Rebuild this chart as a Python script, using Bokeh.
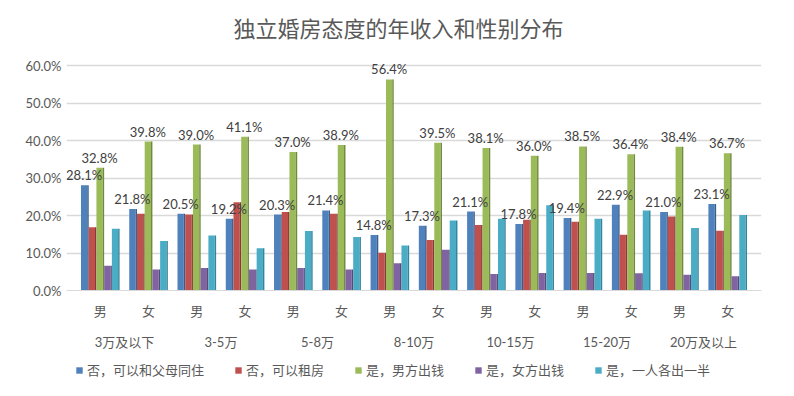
from bokeh.plotting import figure
from bokeh.layouts import column
from bokeh.models import (FactorRange, ColumnDataSource, FixedTicker, Range1d,
                          PrintfTickFormatter, Legend, LegendItem, Label)
from bokeh.transform import dodge
from bokeh.core.properties import value
from bokeh.embed import file_html
from bokeh.resources import INLINE

# ---------------- data ----------------
title_text = "独立婚房态度的年收入和性别分布"
incomes = ["3万及以下", "3-5万", "5-8万", "8-10万", "10-15万", "15-20万", "20万及以上"]
genders = ["男", "女"]
series_names = ["否，可以和父母同住", "否，可以租房", "是，男方出钱", "是，女方出钱", "是，一人各出一半"]

parents = [28.1, 21.8, 20.5, 19.2, 20.3, 21.4, 14.8, 17.3, 21.1, 17.8, 19.4, 22.9, 21.0, 23.1]
rent    = [16.9, 20.5, 20.3, 23.6, 21.0, 20.5, 10.1, 13.5, 17.5, 18.9, 18.4, 14.9, 19.8, 16.0]
male    = [32.8, 39.8, 39.0, 41.1, 37.0, 38.9, 56.4, 39.5, 38.1, 36.0, 38.5, 36.4, 38.4, 36.7]
female  = [6.6, 5.6, 6.0, 5.6, 6.0, 5.6, 7.3, 10.9, 4.4, 4.7, 4.7, 4.6, 4.2, 3.8]
half    = [16.5, 13.2, 14.7, 11.3, 15.9, 14.3, 12.0, 18.7, 19.2, 22.8, 19.2, 21.4, 16.7, 20.2]

y_ticks = [0, 10, 20, 30, 40, 50, 60]

colors = ["#4F81BD", "#C0504D", "#9BBB59", "#8064A2", "#4BACC6"]
sides  = ["#385D8A", "#8C3836", "#71893F", "#5C4776", "#31859C"]

factors = [(inc, g) for inc in incomes for g in genders]
cols = ["s0", "s1", "s2", "s3", "s4"]
data = dict(x=factors, s0=parents, s1=rent, s2=male, s3=female, s4=half)
data["l0"] = [f"{v:.1f}%" for v in parents]
data["l2"] = [f"{v:.1f}%" for v in male]
src = ColumnDataSource(data)

CJK = "Noto Sans CJK SC"
MIX = "Lato, 'Noto Sans CJK SC'"
NUM = "Lato"
GREY = "#595959"

# ---- title strip ----
t = figure(width=778, height=50, x_range=Range1d(0, 1), y_range=Range1d(0, 1),
           x_axis_type=None, y_axis_type=None,
           output_backend="svg", toolbar_location=None,
           min_border_left=0, min_border_right=0, min_border_top=0, min_border_bottom=0)
t.grid.grid_line_color = None
t.outline_line_color = None
t.add_layout(Label(x=0.2403, y=0.48, x_units="data", y_units="data", text=title_text,
                   text_font=CJK, text_font_size="22px", text_color=GREY,
                   text_align="left", text_baseline="middle"))

# ---- main chart ----
p = figure(x_range=FactorRange(*factors, group_padding=0, factor_padding=0,
                               range_padding=0.2, range_padding_units="absolute"),
           y_range=(0, 62), width=778, height=310,
           output_backend="svg", toolbar_location=None,
           min_border_left=66, min_border_right=17, min_border_top=8, min_border_bottom=70)

p.outline_line_color = None
p.background_fill_color = "white"
p.border_fill_color = "white"
p.xgrid.grid_line_color = None
p.ygrid.grid_line_color = "#d9d9d9"
p.ygrid.grid_line_width = 1.3

p.yaxis.ticker = FixedTicker(ticks=y_ticks)
p.yaxis.formatter = PrintfTickFormatter(format="%.1f%%")
p.yaxis.axis_line_color = None
p.yaxis.major_tick_line_color = None
p.yaxis.major_tick_out = 0
p.yaxis.major_tick_in = 0
p.yaxis.minor_tick_line_color = None
p.yaxis.minor_tick_out = 0
p.yaxis.major_label_text_font = NUM
p.yaxis.major_label_text_font_size = "13px"
p.yaxis.major_label_text_color = GREY
p.yaxis.major_label_standoff = 5

p.xaxis.axis_line_color = "#d9d9d9"
p.xaxis.major_tick_line_color = None
p.xaxis.major_tick_out = 0
p.xaxis.major_tick_in = 0
p.xaxis.minor_tick_line_color = None
p.xaxis.separator_line_color = None
p.xaxis.major_label_text_font = MIX
p.xaxis.major_label_text_font_size = "13px"
p.xaxis.major_label_text_color = GREY
p.xaxis.major_label_standoff = 12
p.xaxis.group_text_font = MIX
p.xaxis.group_text_font_size = "13px"
p.xaxis.group_text_font_style = "normal"
p.xaxis.group_text_color = GREY

for k, c in enumerate(cols):
    off = -0.32 + 0.16 * k
    p.vbar(x=dodge("x", off - 0.015, range=p.x_range), top=c, width=0.13,
           source=src, fill_color=colors[k], line_color=None)
    p.vbar(x=dodge("x", off + 0.065, range=p.x_range), top=c, width=0.03,
           source=src, fill_color=sides[k], line_color=None)

for k, lc in [(0, "l0"), (2, "l2")]:
    off = -0.32 + 0.16 * k
    p.text(x=dodge("x", off - 0.015, range=p.x_range), y=cols[k], text=lc, source=src,
           text_font=value(NUM), text_font_size="13px", text_color="#404040",
           text_align="center", text_baseline="bottom", y_offset=-2)

# ---- legend strip (separate figure so the legend is not clipped) ----
q = figure(width=778, height=28, x_range=Range1d(0, 1), y_range=Range1d(0, 1),
           x_axis_type=None, y_axis_type=None,
           output_backend="svg", toolbar_location=None,
           min_border_left=0, min_border_right=0, min_border_top=0, min_border_bottom=0)
q.grid.grid_line_color = None
q.outline_line_color = None
items = []
for k, name in enumerate(series_names):
    # legend proxies: zero-height bar outside the visible range
    r = q.vbar(x=[-10], top=[0], width=0.1, fill_color=colors[k], line_color=None)
    items.append(LegendItem(label=name, renderers=[r]))
legend = Legend(items=items, orientation="horizontal", location=(9, 9),
                label_text_font=CJK, label_text_font_size="13px", label_text_color=GREY,
                glyph_width=8, glyph_height=8, label_standoff=4, spacing=30,
                padding=3, margin=0, border_line_color=None, background_fill_alpha=0)
q.add_layout(legend)

open("out.html", "w").write(file_html(column(t, p, q), INLINE))
